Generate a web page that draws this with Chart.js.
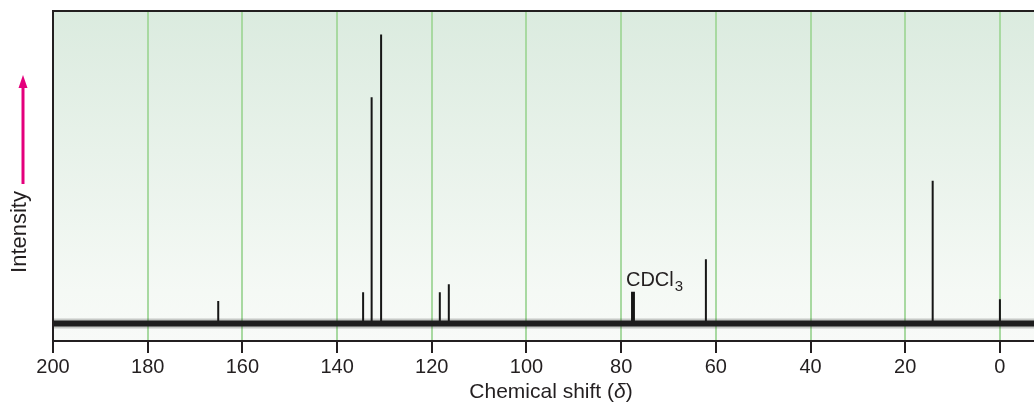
<!DOCTYPE html>
<html>
<head>
<meta charset="utf-8">
<script src="https://cdn.jsdelivr.net/npm/chart.js@4"></script>
<style>
  body { margin: 0; background: #fff; }
  #wrap { width: 1034px; height: 406px; position: relative; }
</style>
</head>
<body>
<div id="wrap"><canvas id="myChart"></canvas></div>
<script>
/* spectrum data (13C NMR, chemical shift in ppm) */

// peak positions and their heights (tallest peak = 100)
const peakShifts = [165.1, 134.5, 132.7, 130.7, 118.3, 116.4, 77.7, 77.3, 62.1, 14.2, 0];
const peakHeights = [7.8, 10.8, 78.3, 100, 10.8, 13.6, 11.0, 11.0, 22.2, 49.4, 8.4];

// the noisy baseline runs across the whole axis
const baselineShifts = [200, -7.2];
const baselineLevel = [0, 0];

// axis
const xTicks = [200, 180, 160, 140, 120, 100, 80, 60, 40, 20, 0];
const solventShift = 77.5;

const TEXT = '#231f20';
const FONT = 'Liberation Sans, Arial, sans-serif';

// build the stick peaks: up from baseline, then a gap
const peakPoints = [];
peakShifts.forEach(function (s, i) {
  peakPoints.push({ x: s, y: 0 });
  peakPoints.push({ x: s, y: peakHeights[i] });
  peakPoints.push({ x: s, y: null });
});

const basePoints = baselineShifts.map(function (s, i) {
  return { x: s, y: baselineLevel[i] };
});

// green gradient behind the plot
const backgroundPlugin = {
  id: 'bg',
  beforeDraw: function (chart) {
    const { ctx, chartArea: a } = chart;
    const g = ctx.createLinearGradient(0, a.top, 0, a.bottom);
    g.addColorStop(0, '#dbebdf');
    g.addColorStop(0.85, '#f5f9f5');
    g.addColorStop(1, '#f8faf8');
    ctx.save();
    ctx.fillStyle = g;
    ctx.fillRect(a.left, a.top, a.right - a.left, a.bottom - a.top);
    ctx.restore();
  }
};

// frame, axis titles with arrow, solvent label
const extrasPlugin = {
  id: 'extras',
  afterDraw: function (chart) {
    const { ctx, chartArea: a, scales } = chart;
    ctx.save();

    // top + left frame
    ctx.strokeStyle = TEXT;
    ctx.lineWidth = 2;
    ctx.beginPath();
    ctx.moveTo(a.right, a.top);
    ctx.lineTo(a.left, a.top);
    ctx.lineTo(a.left, a.bottom);
    ctx.stroke();

    // x title, delta in italics
    ctx.fillStyle = TEXT;
    ctx.textBaseline = 'alphabetic';
    ctx.textAlign = 'left';
    const parts = [
      ['Chemical shift (', '21px ' + FONT],
      ['δ', 'italic 21px ' + FONT],
      [')', '21px ' + FONT]
    ];
    let total = 0;
    parts.forEach(function (p) { ctx.font = p[1]; total += ctx.measureText(p[0]).width; });
    let tx = 551 - total / 2;
    parts.forEach(function (p) {
      ctx.font = p[1];
      ctx.fillText(p[0], tx, 398);
      tx += ctx.measureText(p[0]).width;
    });

    // Intensity label
    ctx.font = '22px ' + FONT;
    ctx.translate(20, 232);
    ctx.rotate(-Math.PI / 2);
    ctx.textAlign = 'center';
    ctx.textBaseline = 'middle';
    ctx.fillText('Intensity', 0, 0);
    ctx.setTransform(1, 0, 0, 1, 0, 0);

    // magenta arrow
    ctx.strokeStyle = '#e4007c';
    ctx.fillStyle = '#e4007c';
    ctx.lineWidth = 3;
    ctx.beginPath();
    ctx.moveTo(23, 184);
    ctx.lineTo(23, 84);
    ctx.stroke();
    ctx.beginPath();
    ctx.moveTo(23, 75);
    ctx.lineTo(27.5, 88);
    ctx.lineTo(18.5, 88);
    ctx.closePath();
    ctx.fill();

    // CDCl3 label next to the solvent peak
    const px = scales.x.getPixelForValue(solventShift);
    const py = scales.y.getPixelForValue(11.0);
    ctx.fillStyle = TEXT;
    ctx.textBaseline = 'alphabetic';
    ctx.textAlign = 'left';
    ctx.font = '20px ' + FONT;
    const lx = px - 7;
    const ly = py - 6;
    ctx.fillText('CDCl', lx, ly);
    const w = ctx.measureText('CDCl').width;
    ctx.font = '15px ' + FONT;
    ctx.fillText('3', lx + w + 1, ly + 5);

    ctx.restore();
  }
};

const ctx = document.getElementById('myChart').getContext('2d');

const chart = new Chart(ctx, {
  type: 'line',
  data: {
    datasets: [
      {
        label: 'noise halo',
        data: basePoints,
        borderColor: 'rgba(30,30,30,0.22)',
        borderWidth: 10,
        pointRadius: 0,
      },
      {
        label: 'baseline',
        data: basePoints,
        borderColor: '#1e1e1e',
        borderWidth: 6,
        pointRadius: 0,
      },
      {
        label: 'peaks',
        data: peakPoints,
        borderColor: '#161616',
        borderWidth: 2,
        pointRadius: 0,
        spanGaps: false,
      }
    ]
  },
  options: {
    responsive: true,
    maintainAspectRatio: false,
    animation: false,
    layout: { padding: { left: 53, right: 0, top: 11, bottom: 0 } },
    plugins: {
      legend: { display: false },
      tooltip: { enabled: false }
    },
    scales: {
      x: {
        type: 'linear',
        reverse: true,
        min: -7.2,
        max: 200,
        afterFit: function (scale) { scale.height = 65; },
        afterBuildTicks: function (scale) {
          scale.ticks = xTicks.map(function (v) { return { value: v }; });
        },
        grid: {
          color: '#a8d9a1',
          lineWidth: 2,
          tickColor: TEXT,
          tickWidth: 2,
          tickLength: 12,
        },
        border: { color: TEXT, width: 2 },
        ticks: {
          color: TEXT,
          font: { family: FONT, size: 20 },
          padding: 2,
          maxRotation: 0,
        },
        title: { display: false }
      },
      y: {
        display: false,
        min: -6.06,
        max: 108.1,
      }
    }
  },
  plugins: [backgroundPlugin, extrasPlugin]
});
</script>
</body>
</html>
